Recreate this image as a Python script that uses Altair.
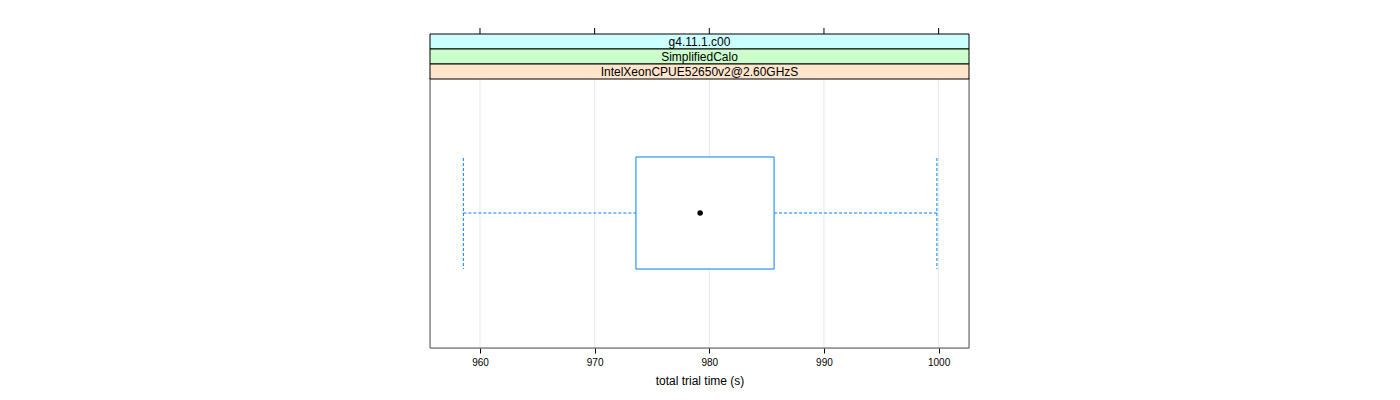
import altair as alt
import pandas as pd

# ---- data ----
condition = ["IntelXeonCPUE52650v2@2.60GHzS"]
whisker_low = [958.55]
q1 = [973.6]
median = [979.2]
q3 = [985.65]
whisker_high = [999.85]

strip_labels = ["g4.11.1.c00", "SimplifiedCalo", "IntelXeonCPUE52650v2@2.60GHzS"]
strip_colors = ["#ccffff", "#ccffcc", "#ffe5cc"]
tick_values = [960, 970, 980, 990, 1000]

stats = pd.DataFrame({
    "cond": condition,
    "low": whisker_low,
    "q1": q1,
    "med": median,
    "q3": q3,
    "high": whisker_high,
})
ticks_df = pd.DataFrame({"t": tick_values})

W, H = 539, 270
FONT = "Liberation Sans"
BLUE = "#0080ff"
HALF = 56  # half of box height in px

xscale = alt.Scale(domain=[955.64, 1002.65], nice=False, zero=False)
yscale = alt.Scale(paddingInner=0, paddingOuter=0.705)

base = alt.Chart(stats)

# gridlines
grid = alt.Chart(ticks_df).mark_rule(color="#e8e8e8", strokeWidth=1).encode(
    x=alt.X("t:Q", scale=xscale,
            axis=alt.Axis(values=tick_values, title="total trial time (s)",
                          labelFont=FONT, titleFont=FONT, labelFontSize=10,
                          titleFontSize=12, titleFontWeight="normal",
                          labelColor="#000", titleColor="#000",
                          tickColor="#000", tickSize=5, domain=False,
                          grid=False, labelPadding=4, titlePadding=8,
                          format="d")),
    y=alt.value(0), y2=alt.value(H),
)

# top ticks (above strips)
top_ticks = alt.Chart(ticks_df).mark_rule(color="#000", strokeWidth=1).encode(
    x=alt.X("t:Q", scale=xscale),
    y=alt.value(-50), y2=alt.value(-44),
)

y_enc = alt.Y("cond:N", scale=yscale, axis=None)

whisk_lo = base.mark_rule(color=BLUE, strokeDash=[3, 2], strokeWidth=1).encode(
    x=alt.X("low:Q", scale=xscale), x2="q1:Q", y=y_enc)
whisk_hi = base.mark_rule(color=BLUE, strokeDash=[3, 2], strokeWidth=1).encode(
    x=alt.X("q3:Q", scale=xscale), x2="high:Q", y=y_enc)

end_lo = base.mark_rule(color=BLUE, strokeDash=[3, 2], strokeWidth=1).encode(
    x=alt.X("low:Q", scale=xscale),
    y=alt.value(H / 2 - HALF + 1), y2=alt.value(H / 2 + HALF))
end_hi = base.mark_rule(color=BLUE, strokeDash=[3, 2], strokeWidth=1).encode(
    x=alt.X("high:Q", scale=xscale),
    y=alt.value(H / 2 - HALF + 1), y2=alt.value(H / 2 + HALF))

box = base.mark_rect(fill="white", stroke=BLUE, strokeWidth=1).encode(
    x=alt.X("q1:Q", scale=xscale), x2="q3:Q", y=y_enc)

med = base.mark_point(filled=True, color="black", size=30, opacity=1).encode(
    x=alt.X("med:Q", scale=xscale), y=y_enc)

# panel border
border = alt.Chart(ticks_df.head(1)).mark_rect(fill=None, stroke="#555", strokeWidth=1).encode(
    x=alt.value(0), x2=alt.value(W), y=alt.value(0), y2=alt.value(H))

# strips
strip_layers = []
strip_tops = [-44, -29, -14]
strip_h = 15
for lab, col, top in zip(strip_labels, strip_colors, strip_tops):
    sdf = pd.DataFrame({"label": [lab]})
    r = alt.Chart(sdf).mark_rect(fill=col, stroke="#000", strokeWidth=1).encode(
        x=alt.value(0), x2=alt.value(W), y=alt.value(top), y2=alt.value(top + strip_h))
    t = alt.Chart(sdf).mark_text(font=FONT, fontSize=12, color="#000",
                                 baseline="middle", align="center").encode(
        text="label:N", x=alt.value(W / 2), y=alt.value(top + strip_h / 2 + 0.5))
    strip_layers += [r, t]

chart = alt.layer(grid, top_ticks, whisk_lo, whisk_hi, end_lo, end_hi, box, med,
                  border, *strip_layers).properties(
    width=W, height=H,
    autosize=alt.AutoSizeParams(type="none"),
    padding={"left": 430, "top": 78, "right": 431, "bottom": 52},
).configure_view(stroke=None).configure(background="white")

chart.save("out.html", embed_options={"renderer": "svg", "actions": False})
